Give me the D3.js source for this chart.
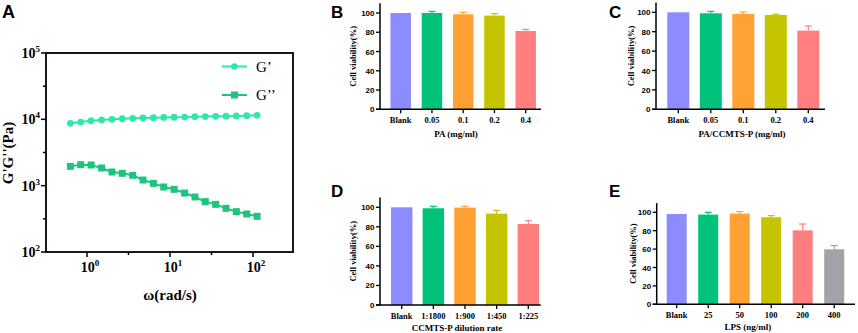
<!DOCTYPE html>
<html><head><meta charset="utf-8">
<script src="https://cdn.jsdelivr.net/npm/d3@7"></script>
<style>body{margin:0;background:#fff}svg{display:block}</style>
</head><body>
<svg id="c" width="858" height="333"></svg>
<script>
// ---- Panel A data ----
const omega = [0.63, 0.84, 1.12, 1.5, 2.0, 2.66, 3.55, 4.73, 6.3, 8.4, 11.2, 15, 20, 26.6, 35.5, 47.3, 63, 84, 112];
const gPrime = [8700, 9100, 9550, 9770, 10000, 10230, 10350, 10470, 10600, 10700, 10750, 10800, 10970, 11000, 11100, 11150, 11230, 11350, 11490];
const gDouble = [1955, 2073, 2050, 1846, 1607, 1535, 1432, 1217, 1084, 955, 881, 775, 675, 574, 523, 455, 406, 374, 345];
const xTicksA = [1, 10, 100];
const yTicksA = [100, 1000, 10000, 100000];

// ---- Bar panels data ----
const catsB = ["Blank", "0.05", "0.1", "0.2", "0.4"];
const valsB = [100, 100, 98.7, 97.3, 81.3];
const errB = [0, 1.7, 2.0, 2.0, 1.7];
const catsC = ["Blank", "0.05", "0.1", "0.2", "0.4"];
const valsC = [100, 99, 98.3, 97.3, 81.1];
const errC = [0, 2.0, 2.0, 0.7, 4.8];
const catsD = ["Blank", "1:1800", "1:900", "1:450", "1:225"];
const valsD = [100, 99, 99.7, 93.5, 82.9];
const errD = [0, 2.0, 1.3, 3.4, 3.4];
const catsE = ["Blank", "25", "50", "100", "200", "400"];
const valsE = [98.2, 97.5, 98.6, 94.6, 80.4, 59.8];
const errE = [0, 2.5, 2.1, 1.8, 6.9, 4.0];
const yTicksBar = [0, 20, 40, 60, 80, 100];
const barColors = ["#8c8cff", "#00c27a", "#ffa133", "#c4c400", "#ff7f7f", "#a3a2a8"];

const svg = d3.select("#c");
const serif = "'Liberation Serif','Times New Roman',serif";
const sans = "'Liberation Sans',Arial,sans-serif";

// ================= Panel A =================
(function(){
  const x = d3.scaleLog().domain([Math.pow(10,-0.494), Math.pow(10,2.482)]).range([46, 293]);
  const y = d3.scaleLog().domain([100, 100000]).range([252, 53]);
  const g = svg.append("g");
  g.append("text").attr("x", 2).attr("y", 18).text("A")
    .attr("font-family", sans).attr("font-weight", "bold").attr("font-size", 18);
  g.append("rect").attr("x", 46).attr("y", 53).attr("width", 247).attr("height", 199)
    .attr("fill", "none").attr("stroke", "#000").attr("stroke-width", 1.8);
  // y ticks major + minor
  yTicksA.forEach(v => {
    g.append("line").attr("x1", 46).attr("x2", 41).attr("y1", y(v)).attr("y2", y(v)).attr("stroke", "#000").attr("stroke-width", 1.5);
    const exp = Math.round(Math.log10(v));
    const t = g.append("text").attr("x", 40).attr("y", y(v) + 5).attr("text-anchor", "end")
      .attr("font-family", serif).attr("font-weight", "bold").attr("font-size", 14);
    t.append("tspan").text("10");
    t.append("tspan").text(exp).attr("font-size", 9).attr("dy", -6);
  });
  yTicksA.slice(0, 3).forEach(v => {
    const m = v * Math.sqrt(10);
    g.append("line").attr("x1", 46).attr("x2", 43).attr("y1", y(m)).attr("y2", y(m)).attr("stroke", "#000").attr("stroke-width", 1.5);
  });
  xTicksA.forEach(v => {
    g.append("line").attr("x1", x(v)).attr("x2", x(v)).attr("y1", 252).attr("y2", 257).attr("stroke", "#000").attr("stroke-width", 1.5);
    const exp = Math.round(Math.log10(v));
    const t = g.append("text").attr("x", x(v) + 3).attr("y", 272).attr("text-anchor", "middle")
      .attr("font-family", serif).attr("font-weight", "bold").attr("font-size", 14);
    t.append("tspan").text("10");
    t.append("tspan").text(exp).attr("font-size", 9).attr("dy", -6);
  });
  xTicksA.slice(0, 2).forEach(v => {
    const m = v * Math.sqrt(10);
    g.append("line").attr("x1", x(m)).attr("x2", x(m)).attr("y1", 252).attr("y2", 255).attr("stroke", "#000").attr("stroke-width", 1.5);
  });
  g.append("text").attr("transform", "translate(13,153) rotate(-90)").attr("text-anchor", "middle")
    .attr("font-family", serif).attr("font-weight", "bold").attr("font-size", 15).text("G'G''(Pa)");
  g.append("text").attr("x", 170).attr("y", 300).attr("text-anchor", "middle")
    .attr("font-family", serif).attr("font-weight", "bold").attr("font-size", 15).text("ω(rad/s)");

  const c1 = "#2ee8a8", c2 = "#1dc47f";
  const line = vals => d3.line().x((d, i) => x(omega[i])).y(d => y(d))(vals);
  g.append("path").attr("d", line(gPrime)).attr("fill", "none").attr("stroke", c1).attr("stroke-width", 2);
  g.append("path").attr("d", line(gDouble)).attr("fill", "none").attr("stroke", c2).attr("stroke-width", 2);
  g.selectAll(".p1").data(gPrime).enter().append("circle")
    .attr("cx", (d, i) => x(omega[i])).attr("cy", d => y(d)).attr("r", 3.4).attr("fill", c1);
  g.selectAll(".p2").data(gDouble).enter().append("rect")
    .attr("x", (d, i) => x(omega[i]) - 3.5).attr("y", d => y(d) - 3.5).attr("width", 7).attr("height", 7).attr("fill", c2);
  // legend
  g.append("line").attr("x1", 222).attr("x2", 247).attr("y1", 66.5).attr("y2", 66.5).attr("stroke", c1).attr("stroke-width", 2);
  g.append("circle").attr("cx", 234.5).attr("cy", 66.5).attr("r", 3.2).attr("fill", c1);
  g.append("text").attr("x", 256).attr("y", 72).attr("font-family", serif).attr("font-size", 15).text("G’");
  g.append("line").attr("x1", 222).attr("x2", 247).attr("y1", 95).attr("y2", 95).attr("stroke", c2).attr("stroke-width", 2);
  g.append("rect").attr("x", 231).attr("y", 91.5).attr("width", 7).attr("height", 7).attr("fill", c2);
  g.append("text").attr("x", 256).attr("y", 100).attr("font-family", serif).attr("font-size", 15).text("G’’");
})();

// ================= Bar panels =================
function barPanel(o){
  const g = svg.append("g");
  const n = o.cats.length;
  const x = d3.scaleBand().domain(o.cats)
    .range([o.c0 - o.step / 2, o.c0 + o.step * (n - 0.5)]).paddingInner(0).paddingOuter(0);
  const y = d3.scaleLinear().domain([0, 100]).range([o.y0, o.y100]);
  g.append("text").attr("x", o.lx).attr("y", o.ly).text(o.label)
    .attr("font-family", sans).attr("font-weight", "bold").attr("font-size", 17);
  // bars
  o.vals.forEach((v, i) => {
    const cx = x(o.cats[i]) + x.bandwidth() / 2;
    const col = barColors[i];
    g.append("rect").attr("x", cx - o.bw / 2).attr("y", y(v)).attr("width", o.bw).attr("height", y(0) - y(v))
      .attr("fill", col);
    if (o.err[i] > 0) {
      g.append("line").attr("x1", cx).attr("x2", cx).attr("y1", y(v)).attr("y2", y(v + o.err[i])).attr("stroke", col).attr("stroke-width", 1.2);
      g.append("line").attr("x1", cx - 3.5).attr("x2", cx + 3.5).attr("y1", y(v + o.err[i])).attr("y2", y(v + o.err[i])).attr("stroke", col).attr("stroke-width", 1.2);
    }
  });
  // axes
  g.append("line").attr("x1", o.ax).attr("x2", o.ax).attr("y1", y(0)).attr("y2", y(110)).attr("stroke", "#000").attr("stroke-width", 1.5);
  g.append("line").attr("x1", o.ax - 4).attr("x2", o.axEnd).attr("y1", y(0)).attr("y2", y(0)).attr("stroke", "#000").attr("stroke-width", 1.5);
  yTicksBar.forEach(t => {
    g.append("line").attr("x1", o.ax - 4).attr("x2", o.ax).attr("y1", y(t)).attr("y2", y(t)).attr("stroke", "#000").attr("stroke-width", 1.3);
    g.append("text").attr("x", o.ax - 5.5).attr("y", y(t) + 3).attr("text-anchor", "end")
      .attr("font-family", sans).attr("font-weight", "bold").attr("font-size", 8).text(t);
  });
  o.cats.forEach(c => {
    const cx = x(c) + x.bandwidth() / 2;
    g.append("line").attr("x1", cx).attr("x2", cx).attr("y1", y(0)).attr("y2", y(0) + 4).attr("stroke", "#000").attr("stroke-width", 1.3);
    g.append("text").attr("x", cx).attr("y", y(0) + 14).attr("text-anchor", "middle")
      .attr("font-family", serif).attr("font-weight", "bold").attr("font-size", 8.5).text(c);
  });
  g.append("text").attr("x", o.tx).attr("y", o.ty).attr("text-anchor", "middle")
    .attr("font-family", serif).attr("font-weight", "bold").attr("font-size", 9).text(o.title);
  g.append("text").attr("transform", `translate(${o.yx},${(y(0) + y(110)) / 2}) rotate(-90)`).attr("text-anchor", "middle")
    .attr("font-family", serif).attr("font-weight", "bold").attr("font-size", 8.5).text("Cell viability(%)");
}

barPanel({label: "B", lx: 331, ly: 18, cats: catsB, vals: valsB, err: errB, ax: 380, axEnd: 541,
  c0: 400.7, step: 31.25, bw: 20.5, y0: 109.3, y100: 13, tx: 456, ty: 137, title: "PA (mg/ml)", yx: 356});
barPanel({label: "C", lx: 609, ly: 18, cats: catsC, vals: valsC, err: errC, ax: 656, axEnd: 825,
  c0: 678.3, step: 32.5, bw: 22, y0: 109.3, y100: 12.3, tx: 742, ty: 137, title: "PA/CCMTS-P (mg/ml)", yx: 634});
barPanel({label: "D", lx: 331, ly: 197, cats: catsD, vals: valsD, err: errD, ax: 380, axEnd: 540.7,
  c0: 401.7, step: 31.65, bw: 21.5, y0: 305, y100: 207.3, tx: 457, ty: 331, title: "CCMTS-P dilution rate", yx: 356});
barPanel({label: "E", lx: 609, ly: 197, cats: catsE, vals: valsE, err: errE, ax: 656.7, axEnd: 855,
  c0: 676.7, step: 31.5, bw: 20, y0: 304.3, y100: 212.3, tx: 748, ty: 330, title: "LPS (ng/ml)", yx: 636});
</script>
</body></html>
